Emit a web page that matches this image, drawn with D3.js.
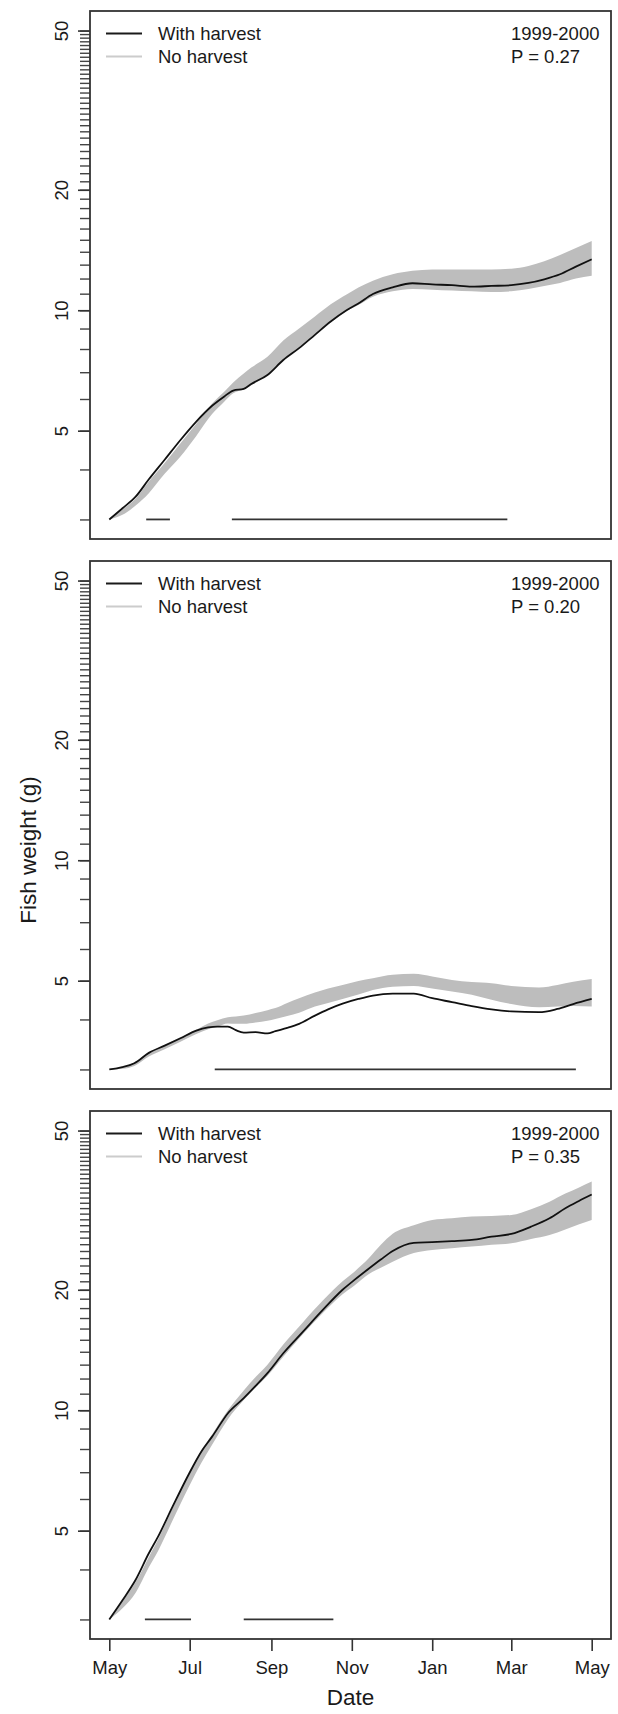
<!DOCTYPE html>
<html><head><meta charset="utf-8">
<script src="https://cdn.jsdelivr.net/npm/d3@7"></script>
<style>
body{margin:0;background:#fff}
svg{display:block}
text{font-family:"Liberation Sans",Arial,Helvetica,sans-serif;fill:#1a1a1a}
</style>
</head><body>
<svg id="c" width="618" height="1714"></svg>
<script>
// ---------- data (days since 1 May 1999) ----------
const monthTickDays = [0, 61, 123, 184, 245, 305, 366];
const monthTickLabels = ["May", "Jul", "Sep", "Nov", "Jan", "Mar", "May"];
const yTickLabels = [5, 10, 20, 50];
const yTickMinor = d3.range(3, 51);

const periodLabels = ["1999-2000", "1999-2000", "1999-2000"];
const pLabels = ["P = 0.27", "P = 0.20", "P = 0.35"];
const legendLabels = ["With harvest", "No harvest"];

// Panel 1
const days1 = [0,10,20,30,42,54,66,78,87,94,102,108,120,132,144,156,168,180,189,200,215,230,245,260,275,290,305,318,330,342,354,366];
const withHarvest1 = [3.0,3.2,3.42,3.78,4.23,4.74,5.27,5.77,6.08,6.30,6.36,6.55,6.89,7.51,8.04,8.68,9.37,10.0,10.4,10.98,11.41,11.68,11.6,11.55,11.45,11.5,11.55,11.7,11.95,12.3,12.85,13.4];
const noHarvestLo1 = [3.0,3.08,3.25,3.49,3.9,4.31,4.85,5.5,5.9,6.2,6.35,6.5,6.9,7.5,8.05,8.7,9.35,9.95,10.3,10.8,11.15,11.3,11.25,11.2,11.15,11.1,11.15,11.3,11.5,11.7,12.0,12.2];
const noHarvestHi1 = [3.0,3.18,3.38,3.73,4.15,4.65,5.2,5.85,6.25,6.6,6.95,7.2,7.65,8.4,9.0,9.65,10.35,10.95,11.4,11.85,12.3,12.55,12.65,12.65,12.65,12.65,12.7,12.9,13.25,13.75,14.3,14.9];
const sigBars1 = [[28.5, 46.3], [93.7, 302.4]];

// Panel 2
const days2 = [0,10,19,30,42,54,66,75,82,90,96,102,111,120,126,135,144,156,166,177,189,200,215,231,245,260,275,290,305,326,340,352,366];
const withHarvest2 = [3.0,3.04,3.11,3.30,3.44,3.59,3.75,3.82,3.84,3.84,3.76,3.71,3.72,3.69,3.74,3.81,3.90,4.09,4.24,4.38,4.50,4.59,4.64,4.64,4.52,4.42,4.32,4.24,4.19,4.17,4.25,4.37,4.50];
const noHarvestLo2 = [3.0,3.01,3.06,3.23,3.37,3.52,3.68,3.78,3.84,3.91,3.90,3.90,3.93,3.97,4.01,4.08,4.16,4.31,4.40,4.50,4.62,4.74,4.83,4.85,4.78,4.70,4.61,4.48,4.37,4.29,4.31,4.32,4.31];
const noHarvestHi2 = [3.0,3.05,3.12,3.31,3.45,3.61,3.77,3.91,3.98,4.05,4.07,4.09,4.15,4.22,4.27,4.40,4.52,4.67,4.78,4.88,4.99,5.07,5.17,5.20,5.12,5.02,4.96,4.93,4.85,4.81,4.88,4.97,5.05];
const sigBars2 = [[80.6, 354.8]];

// Panel 3
const days3 = [0,10,20,30,37,48,60,70,78,90,102,111,120,132,147,162,177,186,197,206,215,231,245,260,275,290,305,320,334,346,356,366];
const withHarvest3 = [3.0,3.35,3.77,4.39,4.83,5.74,6.89,7.9,8.59,9.83,10.72,11.5,12.38,13.88,15.72,17.81,20.0,21.17,22.6,23.8,25.0,26.2,26.3,26.45,26.64,27.15,27.58,28.76,30.19,31.97,33.3,34.6];
const noHarvestLo3 = [3.0,3.2,3.5,4.05,4.45,5.3,6.4,7.4,8.2,9.5,10.6,11.4,12.2,13.6,15.5,17.5,19.5,20.5,21.9,22.7,23.5,24.7,25.15,25.4,25.64,25.9,26.14,26.8,27.42,28.3,29.1,29.9];
const noHarvestHi3 = [3.0,3.33,3.72,4.3,4.75,5.7,6.9,7.95,8.7,10.0,11.2,12.1,13.0,14.6,16.6,18.8,21.0,22.2,24.0,25.9,27.6,29.0,29.9,30.2,30.47,30.6,30.77,31.8,33.2,34.8,36.0,37.3];
const sigBars3 = [[27.0, 62.4], [102.7, 170.0]];

// ---------- layout ----------
const L = 90, R = 611, H = 528;
const panelTops = [11, 561, 1111];
const start = new Date(1999, 4, 1);
const toDate = d => d3.timeDay.offset(start, d);

const panels = [
  {days: days1, wh: withHarvest1, lo: noHarvestLo1, hi: noHarvestHi1, bars: sigBars1},
  {days: days2, wh: withHarvest2, lo: noHarvestLo2, hi: noHarvestHi2, bars: sigBars2},
  {days: days3, wh: withHarvest3, lo: noHarvestLo3, hi: noHarvestHi3, bars: sigBars3}
];

const svg = d3.select("#c");
const dStart = toDate(0), dEnd = toDate(366);
const span = dEnd - dStart;
const x = d3.scaleTime()
  .domain([new Date(+dStart - 0.04 * span), new Date(+dEnd + 0.04 * span)])
  .range([L, R]);
const ratio = Math.pow(50 / 3, 0.04);

panels.forEach((p, i) => {
  const T = panelTops[i];
  const y = d3.scaleLog().domain([3 / ratio, 50 * ratio]).range([T + H, T]);
  const g = svg.append("g");
  const rows = p.days.map((d, k) => ({date: toDate(d), wh: p.wh[k], lo: p.lo[k], hi: p.hi[k]}));

  g.append("path").datum(rows)
    .attr("fill", "#bdbdbd")
    .attr("d", d3.area().curve(d3.curveMonotoneX)
      .x(r => x(r.date)).y0(r => y(r.lo)).y1(r => y(r.hi)));

  g.append("path").datum(rows)
    .attr("fill", "none").attr("stroke", "#111").attr("stroke-width", 1.8)
    .attr("stroke-linejoin", "round")
    .attr("d", d3.line().curve(d3.curveMonotoneX).x(r => x(r.date)).y(r => y(r.wh)));

  g.selectAll("line.sig").data(p.bars).join("line")
    .attr("x1", b => x(toDate(b[0]))).attr("x2", b => x(toDate(b[1])))
    .attr("y1", y(3)).attr("y2", y(3))
    .attr("stroke", "#333").attr("stroke-width", 1.8);

  const ax1 = g.append("g").attr("transform", `translate(${L},0)`)
    .call(d3.axisLeft(y).tickValues(yTickMinor).tickSize(10).tickFormat(""));
  ax1.select(".domain").remove();
  ax1.selectAll("line").attr("stroke", "#444").attr("stroke-width", 1.4);
  const ax2 = g.append("g").attr("transform", `translate(${L},0)`)
    .call(d3.axisLeft(y).tickValues(yTickLabels).tickSize(12).tickFormat(d3.format("d")));
  ax2.select(".domain").remove();
  ax2.selectAll("line").attr("stroke", "#333").attr("stroke-width", 1.6);
  ax2.selectAll("text")
    .attr("x", null).attr("dy", "0.35em")
    .attr("text-anchor", "middle")
    .attr("transform", "translate(-28,0) rotate(-90)")
    .style("font-size", "18.5px")
    .style("font-family", '"Liberation Sans",Arial,sans-serif')
    .attr("fill", "#1a1a1a");

  g.append("rect").attr("x", L).attr("y", T).attr("width", R - L).attr("height", H)
    .attr("fill", "none").attr("stroke", "#333").attr("stroke-width", 1.8);

  const legColors = ["#1a1a1a", "#cccccc"];
  legendLabels.forEach((lab, k) => {
    const ly = T + 22.5 + k * 23;
    g.append("line").attr("x1", 106).attr("x2", 142).attr("y1", ly).attr("y2", ly)
      .attr("stroke", legColors[k]).attr("stroke-width", 2);
    g.append("text").attr("x", 158).attr("y", ly).attr("dy", "0.35em")
      .style("font-size", "18.5px").text(lab);
  });
  g.append("text").attr("x", 511).attr("y", T + 23).attr("dy", "0.35em")
    .style("font-size", "18.5px").text(periodLabels[i]);
  g.append("text").attr("x", 511).attr("y", T + 46).attr("dy", "0.35em")
    .style("font-size", "18.5px").text(pLabels[i]);

  if (i === panels.length - 1) {
    const axx = g.append("g").attr("transform", `translate(0,${T + H})`)
      .call(d3.axisBottom(x).tickValues(monthTickDays.map(toDate)).tickSize(12).tickPadding(10)
        .tickFormat((d, k) => monthTickLabels[k]));
    axx.select(".domain").remove();
    axx.selectAll("line").attr("stroke", "#333").attr("stroke-width", 1.6);
    axx.selectAll("text").style("font-size", "18.5px")
      .style("font-family", '"Liberation Sans",Arial,sans-serif').attr("fill", "#1a1a1a");
  }
});

svg.append("text").attr("transform", "translate(28,850) rotate(-90)")
  .attr("text-anchor", "middle").attr("dy", "0.35em")
  .style("font-size", "22.5px").text("Fish weight (g)");
svg.append("text").attr("x", (L + R) / 2).attr("y", 1697).attr("dy", "0.35em")
  .attr("text-anchor", "middle").style("font-size", "22.5px").text("Date");
</script>
</body></html>
